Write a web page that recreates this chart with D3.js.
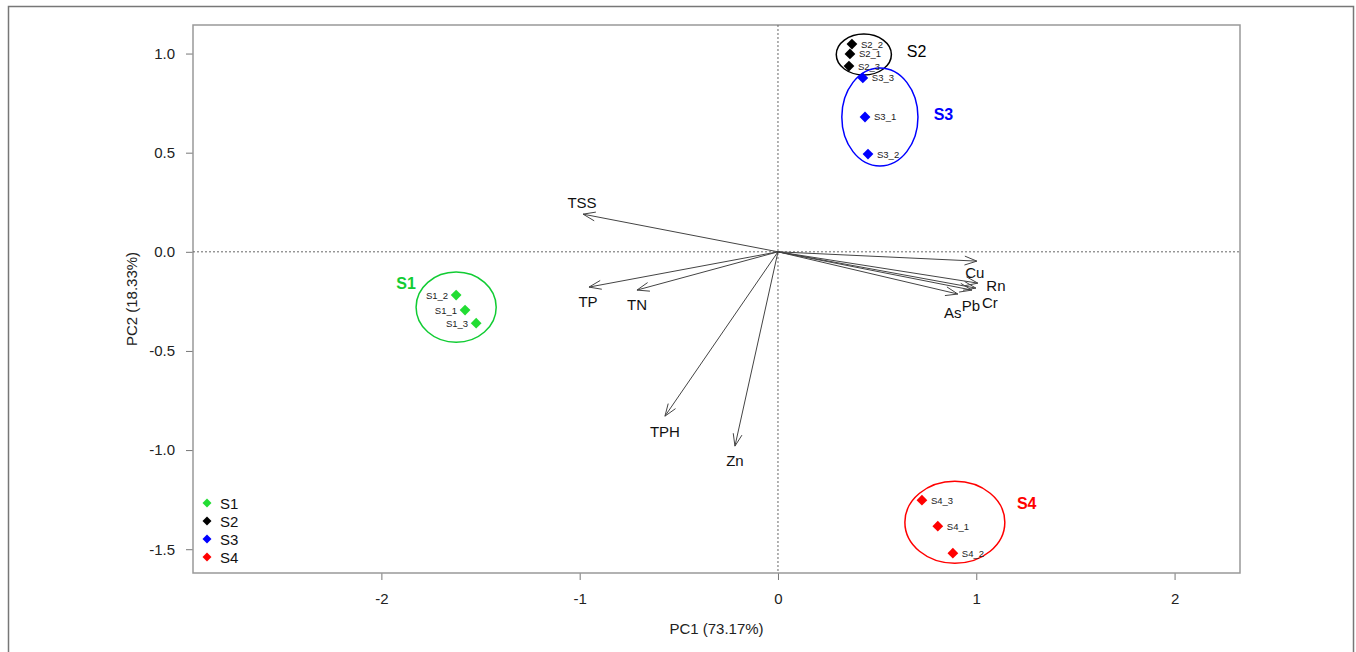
<!DOCTYPE html>
<html>
<head>
<meta charset="utf-8">
<script src="https://cdn.jsdelivr.net/npm/d3@7"></script>
<style>
  body { margin: 0; background: #fff; }
  svg text { font-family: "Liberation Sans", Arial, sans-serif; }
</style>
</head>
<body>
<div id="chart"></div>
<script>
// sample scores (PC1, PC2)
const sampleNames = ["S1_1", "S1_2", "S1_3", "S2_1", "S2_2", "S2_3", "S3_1", "S3_2", "S3_3", "S4_1", "S4_2", "S4_3"];
const sampleGroup = ["S1", "S1", "S1", "S2", "S2", "S2", "S3", "S3", "S3", "S4", "S4", "S4"];
const pc1Scores = [-1.578, -1.623, -1.522, 0.363, 0.373, 0.358, 0.439, 0.454, 0.428, 0.806, 0.882, 0.726];
const pc2Scores = [-0.294, -0.218, -0.360, 0.998, 1.048, 0.937, 0.680, 0.493, 0.877, -1.384, -1.520, -1.253];

// group confidence ellipses
const groups = ["S1", "S2", "S3", "S4"];
const groupColors = ["#22dd33", "#000000", "#0000ff", "#ff0000"];
const ellipseCx = [-1.623, 0.433, 0.514, 0.892];
const ellipseCy = [-0.279, 0.995, 0.680, -1.364];
const ellipseRx = [0.202, 0.139, 0.192, 0.252];
const ellipseRy = [0.177, 0.103, 0.247, 0.207];
const groupLabelX = [-1.925, 0.650, 0.785, 1.205];
const groupLabelY = [-0.160, 1.010, 0.695, -1.270];

// variable loadings
const variables = ["TSS", "TP", "TN", "TPH", "Zn", "Cu", "Rn", "Cr", "Pb", "As"];
const loadPC1 = [-0.983, -0.953, -0.711, -0.570, -0.217, 1.003, 1.008, 0.998, 0.978, 0.907];
const loadPC2 = [0.190, -0.178, -0.193, -0.829, -0.980, -0.047, -0.158, -0.183, -0.193, -0.213];
const varLabelX = [-0.988, -0.958, -0.711, -0.570, -0.217, 0.993, 1.099, 1.069, 0.973, 0.882];
const varLabelY = [0.251, -0.249, -0.264, -0.905, -1.051, -0.102, -0.168, -0.254, -0.269, -0.304];

const xTicks = [-2, -1, 0, 1, 2];
const yTicks = [-1.5, -1.0, -0.5, 0.0, 0.5, 1.0];

const width = 1356, height = 652;
const plot = { left: 193, right: 1240, top: 25, bottom: 573 };

const svg = d3.select("#chart").append("svg")
  .attr("width", width)
  .attr("height", height);

// outer figure frame
svg.append("rect")
  .attr("x", 8.5).attr("y", 6.5)
  .attr("width", 1345).attr("height", 700)
  .attr("fill", "none")
  .attr("stroke", "#777")
  .attr("stroke-width", 1.5);

const x = d3.scaleLinear().domain([-2.95, 2.33]).range([plot.left, plot.right]);
const y = d3.scaleLinear().domain([-1.62, 1.144]).range([plot.bottom, plot.top]);

// axes
const xAxis = svg.append("g")
  .attr("transform", `translate(0,${plot.bottom})`)
  .call(d3.axisBottom(x).tickValues(xTicks).tickSize(7).tickPadding(13).tickFormat(d => String(d)));
const yAxis = svg.append("g")
  .attr("transform", `translate(${plot.left},0)`)
  .call(d3.axisLeft(y).tickValues(yTicks).tickSize(7).tickPadding(11).tickFormat(d => d.toFixed(1)));
[xAxis, yAxis].forEach(a => {
  a.select(".domain").remove();
  a.selectAll("line").attr("stroke", "#777");
  a.selectAll("text").attr("font-size", 15).attr("fill", "#222");
});

svg.append("rect")
  .attr("x", plot.left).attr("y", plot.top)
  .attr("width", plot.right - plot.left).attr("height", plot.bottom - plot.top)
  .attr("fill", "none")
  .attr("stroke", "#999")
  .attr("stroke-width", 1.5);

// axis titles
svg.append("text")
  .attr("x", (plot.left + plot.right) / 2).attr("y", 634)
  .attr("text-anchor", "middle")
  .attr("font-size", 15).attr("fill", "#222")
  .text("PC1 (73.17%)");
svg.append("text")
  .attr("transform", `translate(137,${(plot.top + plot.bottom) / 2}) rotate(-90)`)
  .attr("text-anchor", "middle")
  .attr("font-size", 15).attr("fill", "#222")
  .text("PC2 (18.33%)");

// zero reference lines
svg.append("line")
  .attr("x1", x(0)).attr("x2", x(0)).attr("y1", plot.top).attr("y2", plot.bottom)
  .attr("stroke", "#666").attr("stroke-dasharray", "2,2");
svg.append("line")
  .attr("x1", plot.left).attr("x2", plot.right).attr("y1", y(0)).attr("y2", y(0))
  .attr("stroke", "#666").attr("stroke-dasharray", "2,2");

// loading arrows
const arrowG = svg.append("g").attr("stroke", "#444").attr("stroke-width", 1).attr("fill", "none");
variables.forEach((v, i) => {
  const x0 = x(0), y0 = y(0), x1 = x(loadPC1[i]), y1 = y(loadPC2[i]);
  const ang = Math.atan2(y1 - y0, x1 - x0);
  const len = 13, spread = Math.PI / 9;
  arrowG.append("line").attr("x1", x0).attr("y1", y0).attr("x2", x1).attr("y2", y1);
  arrowG.append("path")
    .attr("d", `M${x1 - len * Math.cos(ang - spread)},${y1 - len * Math.sin(ang - spread)}L${x1},${y1}L${x1 - len * Math.cos(ang + spread)},${y1 - len * Math.sin(ang + spread)}`);
});
svg.append("g").selectAll("text")
  .data(variables)
  .join("text")
  .attr("x", (d, i) => x(varLabelX[i]))
  .attr("y", (d, i) => y(varLabelY[i]))
  .attr("text-anchor", "middle")
  .attr("dominant-baseline", "central")
  .attr("font-size", 15)
  .attr("fill", "#111")
  .text(d => d);

// ellipses
svg.append("g").selectAll("ellipse")
  .data(groups)
  .join("ellipse")
  .attr("cx", (d, i) => x(ellipseCx[i]))
  .attr("cy", (d, i) => y(ellipseCy[i]))
  .attr("rx", (d, i) => x(ellipseRx[i]) - x(0))
  .attr("ry", (d, i) => y(0) - y(ellipseRy[i]))
  .attr("fill", "none")
  .attr("stroke", (d, i) => i === 0 ? "#11cc33" : groupColors[i])
  .attr("stroke-width", 1.5);

svg.append("g").selectAll("text")
  .data(groups)
  .join("text")
  .attr("x", (d, i) => x(groupLabelX[i]))
  .attr("y", (d, i) => y(groupLabelY[i]))
  .attr("dominant-baseline", "central")
  .attr("font-size", 16)
  .attr("font-weight", d => d === "S2" ? "normal" : "bold")
  .attr("fill", (d, i) => i === 0 ? "#11cc33" : groupColors[i])
  .text(d => d);

// sample points
const diamond = d3.symbol().type(d3.symbolSquare).size(58);
const colorOf = g => groupColors[groups.indexOf(g)];
svg.append("g").selectAll("path")
  .data(sampleNames)
  .join("path")
  .attr("d", diamond)
  .attr("transform", (d, i) => `translate(${x(pc1Scores[i])},${y(pc2Scores[i])}) rotate(45)`)
  .attr("fill", (d, i) => colorOf(sampleGroup[i]));
svg.append("g").selectAll("text")
  .data(sampleNames)
  .join("text")
  .attr("x", (d, i) => x(pc1Scores[i]) + (sampleGroup[i] === "S1" ? -8 : 9))
  .attr("y", (d, i) => y(pc2Scores[i]))
  .attr("text-anchor", (d, i) => sampleGroup[i] === "S1" ? "end" : "start")
  .attr("dominant-baseline", "central")
  .attr("font-size", 9.5)
  .attr("fill", "#222")
  .text(d => d);

// legend
const legend = svg.append("g").attr("transform", `translate(${plot.left + 14},503)`);
groups.forEach((g, i) => {
  legend.append("path")
    .attr("d", d3.symbol().type(d3.symbolSquare).size(40))
    .attr("transform", `translate(0,${i * 18}) rotate(45)`)
    .attr("fill", groupColors[i]);
  legend.append("text")
    .attr("x", 13).attr("y", i * 18)
    .attr("dominant-baseline", "central")
    .attr("font-size", 15)
    .attr("fill", "#111")
    .text(g);
});
</script>
</body>
</html>
